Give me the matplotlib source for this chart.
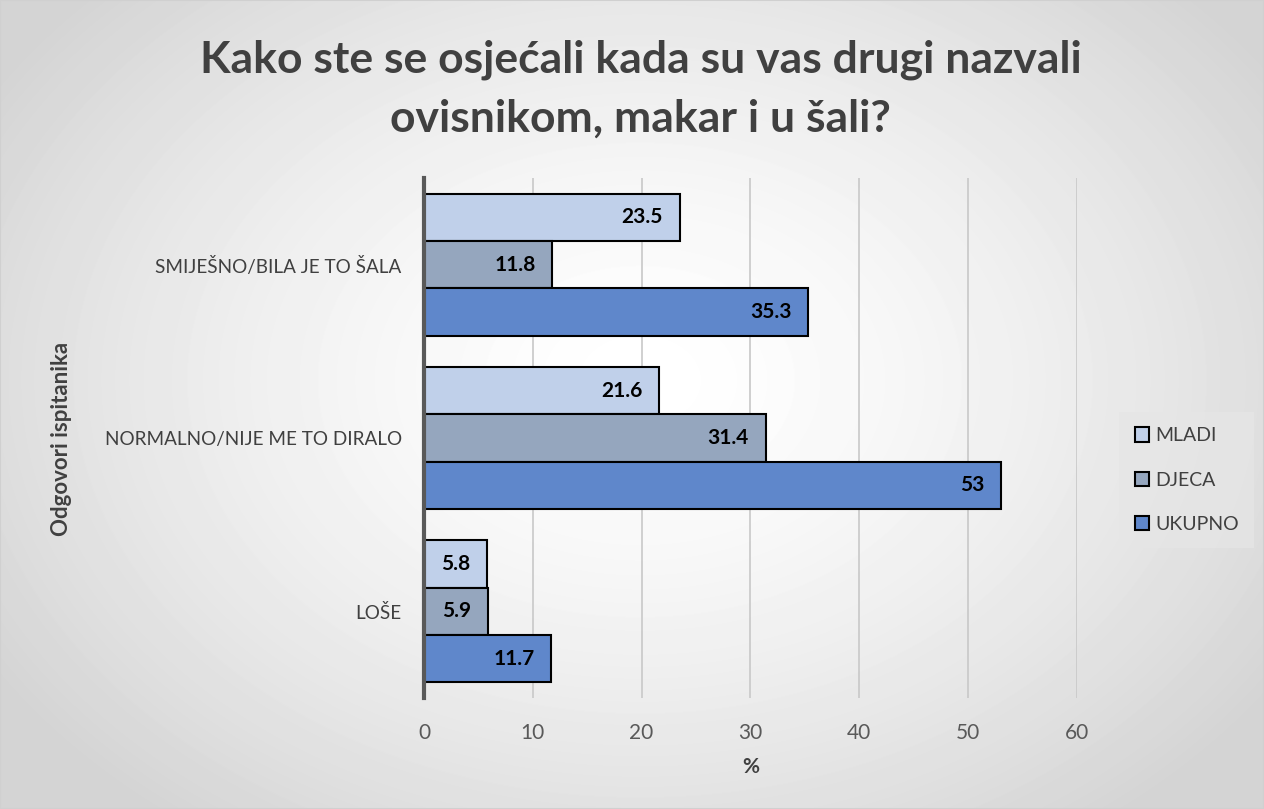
import numpy as np
import matplotlib.pyplot as plt
from matplotlib.patches import Rectangle

categories = ["LOŠE", "NORMALNO/NIJE ME TO DIRALO", "SMIJEŠNO/BILA JE TO ŠALA"]
series_names = ["MLADI", "DJECA", "UKUPNO"]
mladi = [5.8, 21.6, 23.5]
djeca = [5.9, 31.4, 11.8]
ukupno = [11.7, 53, 35.3]
x_ticks = [0, 10, 20, 30, 40, 50, 60]

colors = ["#c0d0ea", "#95a6be", "#5f87cb"]
plt.rcParams["font.family"] = ["Lato", "DejaVu Sans"]

fig = plt.figure(figsize=(12.64, 8.09), dpi=100)

# radial gradient background
bg = fig.add_axes([0, 0, 1, 1], zorder=-10)
yy, xx = np.mgrid[0:809, 0:1264]
r = np.sqrt(((xx - 640) / 760) ** 2 + ((yy - 380) / 560) ** 2)
shade = 1 - 0.17 * np.clip(r, 0, 1) ** 1.5
bg.imshow(shade, cmap="gray", vmin=0, vmax=1, aspect="auto",
          extent=[0, 1, 0, 1], interpolation="bilinear")
bg.add_patch(Rectangle((0, 0), 1, 1, fill=False, edgecolor="#d0d0d0",
                       linewidth=1.5, transform=bg.transAxes))
bg.axis("off")

ax = fig.add_axes([0.3354, 0.1372, 0.5165, 0.6428])
ax.patch.set_alpha(0)

y = np.arange(len(categories))
h = 0.273
for vals, off, col, name in zip([mladi, djeca, ukupno], [h, 0, -h], colors, series_names):
    bars = ax.barh(y + off, vals, height=h, color=col, edgecolor="black",
                   linewidth=1.5, label=name, zorder=3)
    for b, v in zip(bars, vals):
        ax.annotate(f"{v:g}", (b.get_width(), b.get_y() + b.get_height() / 2),
                    xytext=(-12, 0), textcoords="offset points", ha="right",
                    va="center", fontsize=15, fontweight="bold", color="black",
                    zorder=4)

ax.set_xlim(0, 60)
ax.set_ylim(-0.5, 2.5)
ax.set_xticks(x_ticks)
ax.set_yticks(y)
ax.set_yticklabels(categories)
ax.tick_params(axis="x", length=0, labelsize=15, colors="#595959", pad=18)
ax.tick_params(axis="y", length=0, labelsize=13.6, colors="#404040", pad=16)
ax.grid(axis="x", color="#c8c8c8", linewidth=1.2, zorder=0)
for s in ["top", "right", "bottom"]:
    ax.spines[s].set_visible(False)
ax.spines["left"].set_color("#595959")
ax.spines["left"].set_linewidth(3)
ax.spines["left"].set_zorder(5)

ax.set_xlabel("%", fontsize=15, fontweight="bold", color="#404040", labelpad=10)
fig.text(0.049, 0.4575, "Odgovori ispitanika", rotation=90, ha="center", va="center",
         fontsize=16, fontweight="bold", color="#404040")

fig.text(0.507, 0.89, "Kako ste se osjećali kada su vas drugi nazvali\novisnikom, makar i u šali?",
         ha="center", va="center", fontsize=32, fontweight="bold", color="#404040",
         linespacing=1.55)

leg = ax.legend(loc="center left", bbox_to_anchor=(1.05, 0.419), frameon=True,
                fontsize=14, handlelength=0.75, handleheight=0.75, handletextpad=0.3,
                labelspacing=1.4, borderpad=0.8, labelcolor="#404040")
leg.get_frame().set_facecolor("#e6e6e6")
leg.get_frame().set_edgecolor("none")
leg.get_frame().set_alpha(0.7)
leg.get_frame().set_boxstyle("square", pad=0)

fig.savefig("out.png", dpi=100)
